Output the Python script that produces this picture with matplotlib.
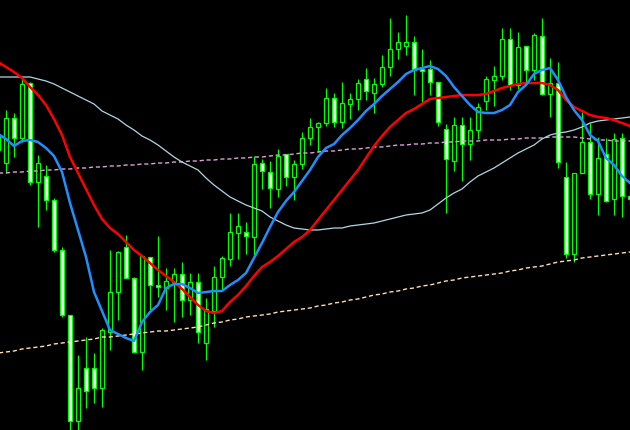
import numpy as np
import matplotlib
matplotlib.use("Agg")
import matplotlib.pyplot as plt
from matplotlib.patches import Rectangle

# ==== DATA (price axis in screen rows, top = 0) =============
# bar index -1 .. 78
opens = [150, 163, 118, 138, 83, 182, 176, 200, 250, 315, 421, 368, 368, 388, 332, 292,
         247, 278, 352, 257, 285, 288, 282, 274, 300, 282, 343, 311, 277, 259, 233, 232,
         237, 163, 172, 189, 154, 177, 164, 138, 127, 123, 98, 122, 104, 99, 79, 93,
         84, 67, 49, 46, 42, 69, 69, 82, 129, 161, 125, 144, 130, 101, 80, 76,
         39, 85, 46, 70, 36, 94, 83, 177, 254, 173, 142, 194, 154, 199, 138, 196]
highs = [128, 110, 113, 79, 82, 155, 165, 198, 247, 315, 355, 337, 353, 328, 250, 251,
         235, 277, 256, 257, 236, 268, 268, 262, 273, 273, 298, 266, 256, 213, 213, 222,
         156, 159, 161, 149, 154, 160, 132, 118, 122, 88, 93, 82, 93, 79, 68, 78,
         55, 18, 32, 15, 36, 49, 60, 82, 124, 117, 117, 117, 103, 76, 66, 28,
         28, 32, 46, 33, 18, 58, 62, 162, 173, 112, 123, 137, 138, 133, 133, 190]
lows = [152, 173, 157, 142, 185, 227, 210, 252, 317, 430, 430, 408, 403, 407, 350, 320,
        278, 353, 370, 310, 297, 310, 322, 317, 315, 343, 360, 327, 290, 266, 259, 254,
        256, 189, 208, 197, 186, 200, 169, 145, 152, 126, 127, 128, 119, 110, 100, 113,
        87, 76, 59, 55, 95, 102, 95, 126, 213, 171, 181, 160, 139, 110, 106, 80,
        90, 89, 82, 80, 95, 117, 168, 258, 262, 173, 199, 215, 202, 215, 217, 205]
closes = [135, 118, 138, 84, 182, 163, 200, 250, 315, 421, 388, 391, 388, 330, 292, 252,
          278, 352, 256, 285, 287, 281, 274, 300, 282, 332, 309, 277, 258, 232, 226, 236,
          164, 171, 188, 156, 177, 164, 138, 127, 123, 98, 122, 103, 99, 83, 91, 84,
          67, 49, 42, 42, 70, 71, 82, 122, 159, 125, 144, 130, 107, 79, 76, 39,
          85, 47, 70, 35, 94, 83, 162, 254, 173, 142, 194, 158, 201, 139, 196, 199]

ma_red = [62, 67, 72, 78, 87, 95, 105, 119, 135, 157, 173, 189, 205, 219, 228, 234,
          242, 250, 256, 263, 270, 276, 282, 289, 297, 305, 311, 313, 311, 302, 295, 286,
          276, 267, 262, 256, 249, 242, 237, 230, 220, 210, 200, 190, 180, 170, 158, 146,
          136, 127, 120, 113, 109, 104, 99, 98, 97, 96, 95, 95, 95, 94, 91, 88,
          86, 84, 83, 83, 83, 85, 90, 100, 107, 111, 115, 117, 118, 120, 123, 126]
ma_blue = [134, 139, 146, 141, 140, 142, 148, 156, 172, 203, 230, 257, 292, 311, 330, 334,
           338, 341, 322, 312, 305, 288, 284, 284, 288, 293, 292, 291, 291, 285, 280, 273,
           258, 243, 227, 212, 201, 192, 181, 170, 157, 148, 144, 135, 128, 120, 111, 104,
           96, 89, 82, 74, 70, 68, 66, 69, 76, 87, 96, 105, 112, 113, 113, 110,
           105, 92, 85, 74, 70, 68, 80, 97, 110, 120, 135, 141, 158, 165, 176, 183]
ma_slow = [77, 77, 77, 77, 77, 79, 81, 84, 88, 92, 96, 100, 104, 111, 115, 119,
           125, 130, 136, 140, 145, 151, 157, 162, 166, 170, 178, 185, 191, 197, 201, 205,
           208, 211, 217, 221, 225, 228, 229, 230, 230, 229, 228, 228, 226, 225, 224, 223,
           221, 219, 217, 215, 214, 213, 210, 204, 198, 193, 189, 182, 176, 172, 168, 163,
           158, 153, 149, 145, 139, 135, 133, 132, 130, 127, 123, 121, 120, 119, 118, 117]
ma_pink = [173, 173, 172, 172, 171, 171, 170, 170, 169, 169, 168, 168, 167, 167, 166, 166,
           165, 165, 164, 164, 163, 163, 162, 162, 161, 161, 160, 160, 159, 159, 158, 158,
           157, 157, 156, 155, 155, 154, 153, 153, 152, 151, 151, 150, 149, 149, 148, 147,
           147, 146, 145, 145, 144, 144, 143, 143, 142, 142, 141, 141, 141, 140, 140, 140,
           139, 139, 138, 138, 138, 137, 137, 137, 137, 138, 139, 140, 140, 141, 141, 141]
ma_beige = [353, 352, 351, 349, 348, 347, 346, 344, 343, 342, 341, 340, 339, 337, 337, 336,
            335, 334, 333, 332, 331, 331, 330, 329, 328, 327, 325, 323, 322, 320, 319, 317,
            316, 315, 314, 312, 311, 310, 309, 308, 306, 305, 303, 302, 300, 299, 297, 295,
            294, 292, 291, 289, 288, 286, 285, 283, 281, 280, 278, 277, 276, 275, 274, 273,
            271, 270, 268, 267, 266, 264, 262, 261, 260, 258, 257, 256, 255, 254, 253, 252]

# ============================================================

bars = np.arange(-1, len(opens) - 1)

fig = plt.figure(figsize=(6.3, 4.3), dpi=100, facecolor="black")
ax = fig.add_axes([0, 0, 1, 1])
ax.set_facecolor("black")

green = "#00ff00"
for i, o, h, l, c in zip(bars, opens, highs, lows, closes):
    ax.vlines(i, h, l, color=green, lw=0.9, zorder=2)
    top, bot = min(o, c), max(o, c)
    fill = "black" if c < o else "white"
    ax.add_patch(Rectangle((i - 0.3, top), 0.6, max(bot - top, 0.8),
                           facecolor=fill, edgecolor=green, lw=0.9, zorder=3))

ax.plot(bars, ma_beige, color="#ffdead", lw=1.0, ls=(0, (3, 2)), zorder=4)
ax.plot(bars, ma_pink, color="#dda0dd", lw=1.0, ls=(0, (3, 2)), zorder=4)
ax.plot(bars, ma_slow, color="#add8e6", lw=0.9, zorder=4)
ax.plot(bars, ma_red, color="red", lw=1.8, zorder=5)
ax.plot(bars, ma_blue, color="#1e90ff", lw=1.8, zorder=5)

ax.set_xlim(-0.75, 78.0)
ax.set_ylim(430, 0)
ax.axis("off")

fig.savefig("out.png", dpi=100, facecolor="black")
